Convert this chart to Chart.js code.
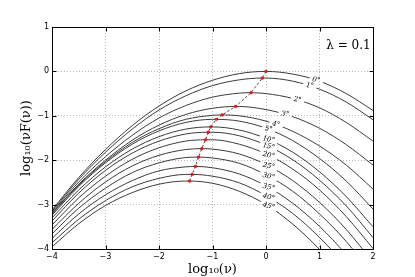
<!DOCTYPE html>
<html><head><meta charset="utf-8">
<script src="https://cdn.jsdelivr.net/npm/chart.js@4.4.0/dist/chart.umd.min.js"></script>
<style>html,body{margin:0;padding:0;background:#fff;}canvas{display:block;}</style>
</head><body>
<canvas id="c" width="415" height="277" style="width:415px;height:277px"></canvas>
<script>
// ---- data ----
const xGrid = [-4, -3.5, -3, -2.5, -2, -1.5, -1, -0.5, 0, 0.5, 1, 1.5, 2];
const angleLabels = ['0°','1°','2°','3°','4°','5°','10°','15°','20°','25°','30°','35°','40°','45°'];
const curve0  = [-3.12,-2.39,-1.76,-1.22,-0.78,-0.44,-0.20,-0.05, 0.00,-0.06,-0.22,-0.50,-0.88];
const curve1  = [-3.15,-2.43,-1.82,-1.30,-0.87,-0.55,-0.32,-0.19,-0.15,-0.22,-0.40,-0.69,-1.09];
const curve2  = [-3.17,-2.49,-1.92,-1.44,-1.05,-0.77,-0.58,-0.49,-0.50,-0.61,-0.82,-1.15,-1.57];
const curve3  = [-3.19,-2.54,-2.00,-1.55,-1.21,-0.97,-0.83,-0.79,-0.86,-1.02,-1.28,-1.65,-2.11];
const curve4  = [-3.21,-2.56,-2.03,-1.60,-1.29,-1.08,-0.99,-1.00,-1.12,-1.35,-1.68,-2.11,-2.65];
const curve5  = [-3.24,-2.59,-2.06,-1.64,-1.34,-1.15,-1.08,-1.12,-1.28,-1.56,-1.96,-2.47,-3.10];
const curve10 = [-3.30,-2.67,-2.15,-1.75,-1.47,-1.30,-1.25,-1.32,-1.51,-1.82,-2.26,-2.82,-3.50];
const curve15 = [-3.37,-2.74,-2.23,-1.84,-1.57,-1.41,-1.37,-1.45,-1.66,-1.99,-2.45,-3.03,-3.74];
const curve20 = [-3.46,-2.85,-2.36,-1.98,-1.72,-1.57,-1.54,-1.64,-1.86,-2.20,-2.67,-3.27,-3.99];
const curve25 = [-3.56,-2.97,-2.49,-2.13,-1.89,-1.76,-1.75,-1.86,-2.10,-2.46,-2.95,-3.56,-4.30];
const curve30 = [-3.66,-3.08,-2.63,-2.28,-2.06,-1.94,-1.95,-2.07,-2.33,-2.70,-3.21,-3.83,-4.59];
const curve35 = [-3.76,-3.21,-2.78,-2.46,-2.24,-2.15,-2.17,-2.31,-2.58,-2.97,-3.49,-4.13,-4.90];
const curve40 = [-3.86,-3.33,-2.91,-2.60,-2.41,-2.32,-2.36,-2.51,-2.80,-3.20,-3.74,-4.39,-5.18];
const curve45 = [-3.95,-3.43,-3.02,-2.73,-2.54,-2.47,-2.52,-2.70,-3.00,-3.44,-4.01,-4.70,-5.53];
const peakX = [0.00,-0.07,-0.28,-0.57,-0.82,-0.93,-1.03,-1.08,-1.13,-1.20,-1.26,-1.32,-1.38,-1.43];
const peakY = [0.00,-0.15,-0.48,-0.79,-0.98,-1.08,-1.25,-1.37,-1.54,-1.74,-1.93,-2.14,-2.32,-2.47];
const xTickValues = [-4,-3,-2,-1,0,1,2];
const xTickLabels = ['\u22124','\u22123','\u22122','\u22121','0','1','2'];
const yTickValues = [-4,-3,-2,-1,0,1];
const yTickLabels = ['\u22124','\u22123','\u22122','\u22121','0','1'];
const xTitle = 'log\u2081\u2080(\u03BD)';
const yTitle = 'log\u2081\u2080(\u03BDF(\u03BD))';
const lambdaText = '\u03BB = 0.1';

const curves = [curve0,curve1,curve2,curve3,curve4,curve5,curve10,curve15,curve20,curve25,curve30,curve35,curve40,curve45];

// label anchor (in x data units) along each curve
const labelXs = [0.94,0.82,0.59,0.36,0.19,0.05,0.05,0.05,0.05,0.05,0.05,0.05,0.05,0.05];

function buildCurve(ys, k) {
  const pts = xGrid.map((x, i) => ({x: x, y: ys[i]}));
  if (!pts.some(p => Math.abs(p.x - peakX[k]) < 1e-9)) pts.push({x: peakX[k], y: peakY[k]});
  pts.sort((a, b) => a.x - b.x);
  return pts;
}

const datasets = [{
  data: peakX.map((x, i) => ({x: x, y: peakY[i]})),
  borderColor: '#333', borderWidth: 0.9, borderDash: [2.5, 2],
  pointRadius: 1.4, pointBackgroundColor: '#ff1010', pointBorderColor: '#d00000', pointBorderWidth: 0.4,
  tension: 0, order: 0, clip: 0
}];
curves.forEach((c, k) => {
  datasets.push({
    data: buildCurve(c, k), borderColor: '#3c3c3c', borderWidth: 1, pointRadius: 0,
    cubicInterpolationMode: 'monotone', order: 1, clip: 0, labelIdx: k
  });
});

const LABEL_FONT = 'italic 7px "DejaVu Serif"';
const LABEL_TILT = 0.45;

function labelGeom(chart, index) {
  const ds = chart.data.datasets[index];
  const meta = chart.getDatasetMeta(index);
  const xv = labelXs[ds.labelIdx];
  const pts = meta.data, d = ds.data;
  for (let i = 0; i < pts.length - 1; i++) {
    const a = d[i].x, b = d[i + 1].x;
    if (xv >= a && xv <= b) {
      const t = (xv - a) / (b - a);
      const p = pts[i], q = pts[i + 1];
      let x, y, dx, dy;
      if (p.cp2x !== undefined && q.cp1x !== undefined) {
        const P0 = [p.x, p.y], P1 = [p.cp2x, p.cp2y], P2 = [q.cp1x, q.cp1y], P3 = [q.x, q.y];
        const mt = 1 - t;
        const B = j => mt*mt*mt*P0[j] + 3*mt*mt*t*P1[j] + 3*mt*t*t*P2[j] + t*t*t*P3[j];
        const D = j => 3*mt*mt*(P1[j]-P0[j]) + 6*mt*t*(P2[j]-P1[j]) + 3*t*t*(P3[j]-P2[j]);
        x = B(0); y = B(1); dx = D(0); dy = D(1);
      } else {
        x = p.x + (q.x - p.x) * t; y = p.y + (q.y - p.y) * t; dx = q.x - p.x; dy = q.y - p.y;
      }
      const ctx = chart.ctx;
      ctx.save(); ctx.font = LABEL_FONT;
      const w = ctx.measureText(angleLabels[ds.labelIdx]).width;
      ctx.restore();
      return {x: x, y: y, ang: Math.atan2(dy, dx), w: w};
    }
  }
  return null;
}

const decorPlugin = {
  id: 'decor',
  beforeDatasetDraw(chart, args) {
    const ds = chart.data.datasets[args.index];
    if (ds.labelIdx === undefined) return;
    const g = labelGeom(chart, args.index);
    const ctx = chart.ctx;
    ctx.save();
    if (!g) return;
    ctx.beginPath();
    ctx.rect(0, 0, chart.width, chart.height);
    const c = Math.cos(g.ang), s = Math.sin(g.ang);
    const hw = g.w / 2 + 3, hh = 4;
    const cs = [[-hw,-hh],[hw,-hh],[hw,hh],[-hw,hh]].map(([u, v]) => [g.x + u*c - v*s, g.y + u*s + v*c]);
    ctx.moveTo(cs[0][0], cs[0][1]);
    for (let i = 1; i < 4; i++) ctx.lineTo(cs[i][0], cs[i][1]);
    ctx.closePath();
    ctx.clip('evenodd');
  },
  afterDatasetDraw(chart, args) {
    const ds = chart.data.datasets[args.index];
    if (ds.labelIdx === undefined) return;
    chart.ctx.restore();
  },
  afterDatasetsDraw(chart) {
    const ctx = chart.ctx;
    const a = chart.chartArea;
    chart.data.datasets.forEach((ds, i) => {
      if (ds.labelIdx === undefined) return;
      const g = labelGeom(chart, i);
      if (!g) return;
      ctx.save();
      ctx.translate(g.x, g.y);
      ctx.rotate(g.ang * LABEL_TILT);
      ctx.font = LABEL_FONT;
      ctx.fillStyle = '#000';
      ctx.textAlign = 'center';
      ctx.textBaseline = 'middle';
      ctx.fillText(angleLabels[ds.labelIdx], 0, 0);
      ctx.restore();
    });
    ctx.save();
    ctx.strokeStyle = '#000';
    ctx.lineWidth = 1;
    const L = Math.round(a.left) + 0.5, R = Math.round(a.right) + 0.5;
    const T = Math.round(a.top) + 0.5, Bt = Math.round(a.bottom) + 0.5;
    ctx.strokeRect(L, T, R - L, Bt - T);
    const xs = chart.scales.x, ys = chart.scales.y;
    ctx.beginPath();
    xTickValues.forEach(v => {
      const px = Math.round(xs.getPixelForValue(v)) + 0.5;
      ctx.moveTo(px, Bt); ctx.lineTo(px, Bt - 4);
      ctx.moveTo(px, T); ctx.lineTo(px, T + 4);
    });
    yTickValues.forEach(v => {
      const py = Math.round(ys.getPixelForValue(v)) + 0.5;
      ctx.moveTo(L, py); ctx.lineTo(L + 4, py);
      ctx.moveTo(R, py); ctx.lineTo(R - 4, py);
    });
    ctx.stroke();
    ctx.font = '12px "DejaVu Serif"';
    ctx.fillStyle = '#000';
    ctx.textAlign = 'center';
    ctx.textBaseline = 'middle';
    ctx.fillText(lambdaText, a.right - 24.5, a.top + 19);
    ctx.restore();
  }
};

new Chart(document.getElementById('c'), {
  type: 'line',
  data: {datasets: datasets},
  plugins: [decorPlugin],
  options: {
    responsive: false, animation: false, devicePixelRatio: 1,
    layout: {padding: {left: 0, right: 42, top: 27, bottom: 0}},
    plugins: {legend: {display: false}, tooltip: {enabled: false}},
    scales: {
      x: {
        type: 'linear', min: -4, max: 2,
        afterBuildTicks: s => { s.ticks = xTickValues.map(v => ({value: v})); },
        ticks: {callback: v => xTickLabels[xTickValues.indexOf(v)], font: {family: 'DejaVu Sans', size: 8}, color: '#000', padding: 3, maxRotation: 0, autoSkip: false},
        grid: {color: '#b8b8b8', drawTicks: false, lineWidth: 1},
        border: {display: false, dash: [1, 2]},
        title: {display: true, text: xTitle, font: {family: 'DejaVu Serif', size: 13}, color: '#000', padding: {top: 0, bottom: 0}},
        afterFit: s => { s.height = 28; }
      },
      y: {
        type: 'linear', min: -4, max: 1,
        afterBuildTicks: s => { s.ticks = yTickValues.map(v => ({value: v})); },
        ticks: {callback: v => yTickLabels[yTickValues.indexOf(v)], font: {family: 'DejaVu Sans', size: 8}, color: '#000', padding: 3, autoSkip: false},
        grid: {color: '#b8b8b8', drawTicks: false, lineWidth: 1},
        border: {display: false, dash: [1, 2]},
        title: {display: true, text: yTitle, font: {family: 'DejaVu Serif', size: 13}, color: '#000', padding: {top: 19, bottom: 0}},
        afterFit: s => { s.width = 52; }
      }
    }
  }
});
</script>
</body></html>
